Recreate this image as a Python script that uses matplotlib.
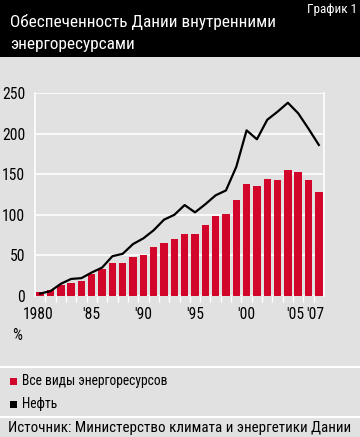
import matplotlib
matplotlib.use("Agg")
import matplotlib.pyplot as plt
from matplotlib import font_manager
from matplotlib.patches import Rectangle
from matplotlib.lines import Line2D


def pick_font():
    # the reference uses a condensed face; take the narrowest one we have
    for name in ['Roboto Condensed', 'Liberation Sans Narrow', 'Open Sans Condensed',
                 'Noto Sans Condensed']:
        try:
            font_manager.findfont(font_manager.FontProperties(family=name),
                                  fallback_to_default=False)
            return name
        except Exception:
            pass
    return 'Liberation Sans'


FONT = pick_font()
plt.rcParams['font.family'] = [FONT, 'DejaVu Sans']

years = list(range(1980, 2008))
all_energy = [5, 8, 13, 16, 19, 27, 33, 41, 41, 48, 51, 60, 65, 70,
              76, 76, 87, 99, 101, 118, 138, 136, 144, 143, 155, 153, 143, 128]
oil = [3, 6, 15, 21, 22, 29, 35, 49, 52, 64, 71, 81, 94, 100,
       112, 103, 113, 124, 130, 159, 204, 193, 217, 227, 238, 225, 206, 186]
xtick_pos = [1980, 1985, 1990, 1995, 2000, 2005, 2007]
xtick_labels = ['1980', "'85", "'90", "'95", "'00", "'05", "'07"]
yticks = [0, 50, 100, 150, 200, 250]

bg = '#e1e1e1'
red = '#d2062b'
W, H = 360, 437

fig = plt.figure(figsize=(W / 100, H / 100), dpi=100, facecolor=bg)
renderer = fig.canvas.get_renderer()


def fit(t, width_px, max_size):
    # shrink a text until it is as wide as in the reference
    t.set_fontsize(max_size)
    w = t.get_window_extent(renderer=renderer).width
    if w > width_px:
        t.set_fontsize(max_size * width_px / w)
    return t.get_fontsize()


# black title band
fig.patches.append(Rectangle((0, 1 - 57 / H), 1, 57 / H, transform=fig.transFigure,
                             facecolor='black', edgecolor='none', zorder=0))
t1 = fig.text(10 / W, 1 - 27 / H, 'Обеспеченность Дании внутренними', color='white',
              va='baseline', ha='left')
s = fit(t1, 267, 16)
fig.text(10 / W, 1 - 49 / H, 'энергоресурсами', color='white', fontsize=s,
         va='baseline', ha='left')
t3 = fig.text(357 / W, 1 - 10 / H, 'График 1', color='white', va='center', ha='right')
fit(t3, 50, 10)

ax = fig.add_axes([35 / W, 1 - 296 / H, 289 / W, 203 / H])
ax.set_facecolor(bg)
ax.bar(years, all_energy, width=0.72, color=red, zorder=2)
ax.plot(years, oil, color='black', lw=1.6, zorder=3)

ax.set_xlim(1979.5, 2007.5)
ax.set_ylim(0, 250)

probe = fig.text(0, 0, '1980')
tick_size = fit(probe, 31, 14)
probe.remove()

ax.set_yticks(yticks)
ax.set_yticklabels([str(v) for v in yticks], fontsize=tick_size)
ax.grid(axis='y', color='white', lw=1.2, zorder=1)
ax.tick_params(axis='y', length=0, pad=7)

# the end labels are shifted a little so '05 and '07 do not collide
label_pos = list(xtick_pos)
label_pos[0] -= 0.2
label_pos[-2] -= 0.3
label_pos[-1] -= 0.3
ax.set_xticks(label_pos, xtick_labels, fontsize=tick_size)
ax.tick_params(axis='x', length=0, pad=8)
ax.set_xticks([y + 0.5 for y in years[:-1]], minor=True)
ax.tick_params(axis='x', which='minor', length=4, color='white', width=1)
for sp in ['top', 'bottom']:
    ax.spines[sp].set_visible(False)
for sp in ['left', 'right']:
    ax.spines[sp].set_color('white')
    ax.spines[sp].set_linewidth(1.2)

fig.text(12 / W, 1 - 336 / H, '%', fontsize=tick_size, va='center', ha='left')

# legend and source
for yy in [367, 417]:
    fig.add_artist(Line2D([0, 1], [1 - yy / H, 1 - yy / H], color='white', lw=1.5,
                          transform=fig.transFigure))
fig.patches.append(Rectangle((10 / W, 1 - 385 / H), 7 / W, 7 / H, transform=fig.transFigure,
                             facecolor=red, edgecolor='none'))
t4 = fig.text(22 / W, 1 - 381 / H, 'Все виды энергоресурсов', va='center', ha='left')
ls = fit(t4, 146, 12)
fig.patches.append(Rectangle((10 / W, 1 - 408 / H), 7 / W, 7 / H, transform=fig.transFigure,
                             facecolor='black', edgecolor='none'))
fig.text(22 / W, 1 - 404 / H, 'Нефть', fontsize=ls, va='center', ha='left')
t5 = fig.text(8 / W, 1 - 428 / H, 'Источник: Министерство климата и энергетики Дании',
              va='center', ha='left')
fit(t5, 343, 12)

fig.savefig('out.png', dpi=100, facecolor=bg)
